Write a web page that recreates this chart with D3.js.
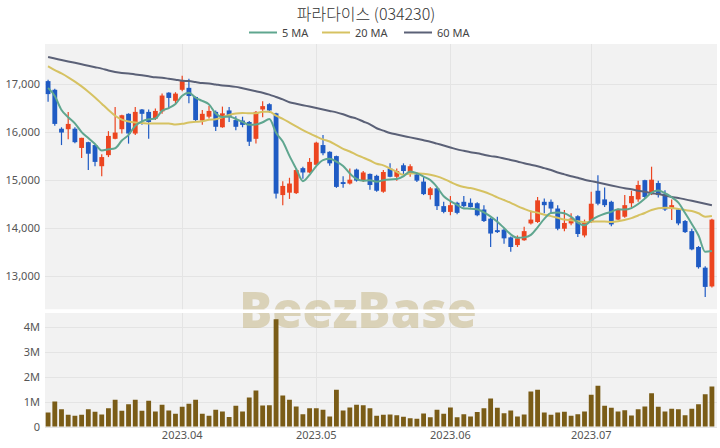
<!DOCTYPE html>
<html><head><meta charset="utf-8">
<script src="https://cdn.jsdelivr.net/npm/d3@7"></script>
<style>
html,body{margin:0;padding:0;background:#fff;}
svg{display:block;font-family:"Noto Sans","Noto Sans CJK KR",sans-serif;}
</style></head>
<body>
<script>
// ---- data ----
const title = "파라다이스 (034230)";
const dates = [
"2023-03-06","2023-03-07","2023-03-08","2023-03-09","2023-03-10","2023-03-13","2023-03-14","2023-03-15","2023-03-16","2023-03-17",
"2023-03-20","2023-03-21","2023-03-22","2023-03-23","2023-03-24","2023-03-27","2023-03-28","2023-03-29","2023-03-30","2023-03-31",
"2023-04-03","2023-04-04","2023-04-05","2023-04-06","2023-04-07","2023-04-10","2023-04-11","2023-04-12","2023-04-13","2023-04-14",
"2023-04-17","2023-04-18","2023-04-19","2023-04-20","2023-04-21","2023-04-24","2023-04-25","2023-04-26","2023-04-27","2023-04-28",
"2023-05-02","2023-05-03","2023-05-04","2023-05-08","2023-05-09","2023-05-10","2023-05-11","2023-05-12","2023-05-15","2023-05-16",
"2023-05-17","2023-05-18","2023-05-19","2023-05-22","2023-05-23","2023-05-24","2023-05-25","2023-05-26","2023-05-30","2023-05-31",
"2023-06-01","2023-06-02","2023-06-05","2023-06-07","2023-06-08","2023-06-09","2023-06-12","2023-06-13","2023-06-14","2023-06-15",
"2023-06-16","2023-06-19","2023-06-20","2023-06-21","2023-06-22","2023-06-23","2023-06-26","2023-06-27","2023-06-28","2023-06-29",
"2023-06-30","2023-07-03","2023-07-04","2023-07-05","2023-07-06","2023-07-07","2023-07-10","2023-07-11","2023-07-12","2023-07-13",
"2023-07-14","2023-07-17","2023-07-18","2023-07-19","2023-07-20","2023-07-21","2023-07-24","2023-07-25","2023-07-26","2023-07-27"];
const open = [17060,16880,16070,16060,16070,15670,15790,15730,15290,15520,
15860,16060,16380,15970,16470,16420,16280,16430,16820,16650,
16880,16920,16730,16240,16320,16420,16100,16450,16250,16240,
16210,15860,16470,16580,16390,14690,14740,14730,15250,15160,
15320,15730,15590,15500,14960,14930,15220,15000,15130,15090,
14760,15240,15070,15310,15140,15120,14970,14690,14830,14460,
14340,14530,14550,14530,14520,14390,14200,13960,13970,13810,
13650,13750,14100,14130,14550,14550,14410,13990,14100,14250,
13850,14130,14780,14600,14550,14180,14240,14520,14600,15000,
14720,14940,14720,14410,14390,14150,13940,13610,13180,12790];
const high = [17090,16900,16100,16420,16100,15880,15800,15740,15540,16020,
16520,16360,16390,16520,16480,16470,16490,16800,16830,16830,
17170,17110,16740,16460,16550,16450,16530,16520,16330,16320,
16230,16440,16640,16600,16400,14980,15050,15230,15280,15460,
15800,15940,15600,15510,15080,15240,15240,15190,15140,15110,
15210,15350,15240,15350,15330,15140,15070,14860,14850,14550,
14670,14550,14670,14620,14540,14480,14220,14240,13990,13830,
13850,14030,14340,14650,14620,14600,14480,14380,14310,14270,
14180,14760,15100,14850,14570,14410,14690,14780,14990,15010,
15280,14990,14790,14600,14410,14170,13990,13630,13210,14200];
const low = [16630,16130,15730,15850,15770,15460,15210,15290,15080,15480,
15850,15970,15760,15940,16150,15860,16250,16380,16490,16600,
16850,16600,16210,16150,16280,16020,16090,16210,16040,16100,
15710,15760,16310,16400,14620,14480,14610,14710,15030,15150,
15300,15520,15300,14840,14840,14910,14970,14960,14800,14760,
14740,15060,14990,15120,15070,14960,14690,14600,14380,14310,
14270,14290,14430,14430,14250,14130,13610,13900,13680,13510,
13610,13740,14080,14110,14310,14310,13960,13940,14060,13820,
13810,14110,14480,14440,14040,14170,14220,14440,14550,14620,
14690,14640,14360,14170,14060,13900,13540,13160,12570,12770];
const close = [16790,16170,15990,16170,15790,15880,15550,15380,15480,15920,
15990,16350,15970,16420,16380,16210,16440,16760,16710,16800,
17060,16750,16250,16380,16440,16110,16390,16310,16110,16150,
15800,16420,16540,16450,14720,14880,14930,15210,15160,15380,
15780,15560,15350,14860,14920,15010,14990,15160,14900,14780,
15170,15070,15190,15190,15290,14990,14710,14830,14460,14340,
14480,14320,14460,14440,14270,14150,13890,13920,13790,13610,
13790,13940,14180,14580,14480,14410,13990,14110,14200,13880,
14130,14510,14510,14480,14080,14390,14480,14670,14900,14650,
15010,14690,14390,14480,14100,13920,13560,13190,12780,14180];
const volume = [0.56,1.0,0.69,0.47,0.43,0.47,0.69,0.59,0.48,0.73,
1.07,0.63,0.89,1.07,0.63,1.03,0.60,0.87,0.64,0.51,
0.79,0.91,1.07,0.51,0.43,0.67,0.60,0.38,0.83,0.60,
1.16,1.44,0.84,0.85,4.29,1.24,1.07,0.80,0.49,0.73,
0.73,0.67,0.40,1.47,0.64,0.76,0.87,0.85,0.73,0.43,
0.47,0.48,0.45,0.39,0.33,0.31,0.52,0.37,0.67,0.51,
0.76,0.37,0.49,0.40,0.58,0.73,1.12,0.75,0.53,0.64,
0.40,0.48,1.40,1.47,0.56,0.47,0.56,0.59,0.43,0.49,
0.60,1.27,1.63,0.83,0.75,0.60,0.65,0.44,0.69,0.80,
1.33,0.79,0.60,0.71,0.69,0.45,0.71,0.89,1.29,1.60].map(v => v * 1e6);
// moving-average values before a full window is available
const ma5Lead = [16920,16750,16460,16310];
const ma20Lead = [17370,17290,17220,17140,17050,16950,16840,16720,16590,16460,
16340,16260,16220,16200,16190,16180,16180,16180,16180];
const ma60 = [17560,17530,17500,17470,17440,17410,17380,17350,17320,17280,
17250,17230,17220,17200,17180,17160,17140,17130,17110,17090,
17070,17060,17040,17020,17010,16990,16970,16960,16940,16910,
16880,16850,16820,16780,16730,16680,16620,16590,16560,16530,
16500,16470,16440,16410,16370,16320,16280,16220,16160,16080,
16030,15980,15950,15920,15890,15860,15830,15800,15760,15720,
15680,15640,15610,15580,15560,15530,15500,15480,15450,15420,
15390,15350,15320,15290,15250,15210,15160,15120,15080,15050,
15010,14980,14950,14920,14890,14860,14830,14810,14780,14760,
14730,14710,14680,14650,14630,14600,14570,14540,14510,14480];
const priceTicks = [13000,14000,15000,16000,17000];
const volTicks = [0,1e6,2e6,3e6,4e6];
const monthTicks = ["2023-04-03","2023-05-02","2023-06-01","2023-07-03"];
const legendItems = [{name:"5 MA",color:"#5fa68f"},{name:"20 MA",color:"#d6c262"},{name:"60 MA",color:"#5b6177"}];

// ---- derived MA ----
function ma(n, lead){
  return close.map((c,i)=>{
    if(i < n-1) return lead[i];
    return d3.mean(close.slice(i-n+1,i+1));
  });
}
const ma5 = ma(5, ma5Lead);
const ma20 = ma(20, ma20Lead);

// ---- layout ----
const W=720,H=448;
const L=45,R=717;
const pTop=44,pBot=309.5,vTop=313,vBot=426.5;
const svg=d3.select("body").append("svg").attr("width",W).attr("height",H);

const x=d3.scaleBand().domain(dates).range([L,715]).paddingInner(0.28).paddingOuter(0.1);
const cx=d=>x(d)+x.bandwidth()/2;
const y=d3.scaleLinear().domain([12310,17832]).range([pBot,pTop]);
const yv=d3.scaleLinear().domain([0,4.54e6]).range([vBot,vTop]);

// backgrounds
svg.append("rect").attr("x",L).attr("y",pTop).attr("width",R-L).attr("height",pBot-pTop).attr("fill","#f2f2f2");
svg.append("rect").attr("x",L).attr("y",vTop).attr("width",R-L).attr("height",vBot-vTop+0.5).attr("fill","#f2f2f2");

// grid
const grid=svg.append("g").attr("stroke","#e4e4e4").attr("stroke-width",1);
priceTicks.forEach(t=>grid.append("line").attr("x1",L).attr("x2",R).attr("y1",Math.round(y(t))+0.5).attr("y2",Math.round(y(t))+0.5));
volTicks.forEach(t=>grid.append("line").attr("x1",L).attr("x2",R).attr("y1",Math.round(yv(t))+0.5).attr("y2",Math.round(yv(t))+0.5));
monthTicks.forEach(t=>{
  const px=Math.round(cx(t))+0.5;
  grid.append("line").attr("x1",px).attr("x2",px).attr("y1",pTop).attr("y2",pBot);
  grid.append("line").attr("x1",px).attr("x2",px).attr("y1",vTop).attr("y2",vBot);
});

// watermark
svg.append("text").attr("x",358).attr("y",328).attr("text-anchor","middle")
  .attr("font-family","'Open Sans','Noto Sans',sans-serif").attr("font-weight",800).attr("font-size",49)
  .attr("fill","#cbbd92").attr("opacity",0.6).text("BeezBase");
svg.append("rect").attr("x",L).attr("y",pBot).attr("width",R-L).attr("height",vTop-pBot).attr("fill","#fff");

// axes
const yAxis=d3.axisLeft(y).tickValues(priceTicks).tickSize(0).tickPadding(4).tickFormat(d3.format(","));
const gy=svg.append("g").attr("transform",`translate(${L-1},0)`).call(yAxis);
const vAxis=d3.axisLeft(yv).tickValues(volTicks).tickSize(0).tickPadding(4).tickFormat(d=>d===0?"0":(d/1e6)+"M");
const gv=svg.append("g").attr("transform",`translate(${L-1},0)`).call(vAxis);
const xAxis=d3.axisBottom(x).tickValues(monthTicks).tickSize(0).tickPadding(5)
  .tickFormat(d=>d.slice(0,4)+"."+d.slice(5,7));
const gx=svg.append("g").attr("transform",`translate(0,${vBot})`).call(xAxis);
[gy,gv,gx].forEach(g=>{
  g.select(".domain").remove();
  g.selectAll("text").attr("fill","#555").attr("font-size",11).attr("font-family","'Noto Sans',sans-serif");
});

// volume bars
svg.append("g").selectAll("rect").data(dates).join("rect")
  .attr("x",d=>x(d)).attr("width",x.bandwidth())
  .attr("y",(d,i)=>yv(volume[i])).attr("height",(d,i)=>vBot-yv(volume[i]))
  .attr("fill","#7a5c17");

// candles
const up="#ec4520",down="#1f5bc4";
const cg=svg.append("g");
dates.forEach((d,i)=>{
  const col=close[i]>=open[i]?up:down;
  cg.append("line").attr("x1",cx(d)).attr("x2",cx(d)).attr("y1",y(high[i])).attr("y2",y(low[i]))
    .attr("stroke",col).attr("stroke-width",1.2);
  const top=y(Math.max(open[i],close[i])),bot=y(Math.min(open[i],close[i]));
  cg.append("rect").attr("x",x(d)).attr("width",x.bandwidth()).attr("y",top).attr("height",Math.max(1.5,bot-top)).attr("fill",col);
});

// MA lines
const line=arr=>d3.line().x((d,i)=>cx(dates[i])).y(d=>y(d)).curve(d3.curveMonotoneX)(arr);
[[ma60,legendItems[2].color],[ma20,legendItems[1].color],[ma5,legendItems[0].color]].forEach(([arr,c])=>{
  svg.append("path").attr("d",line(arr)).attr("fill","none").attr("stroke",c).attr("stroke-width",2).attr("stroke-linejoin","round");
});

// title
svg.append("text").attr("x",366).attr("y",20).attr("text-anchor","middle")
  .attr("font-family","'Noto Sans CJK KR',sans-serif").attr("font-weight",300).attr("font-size",16).attr("fill","#333").text(title);
// legend
const lg=svg.append("g").attr("font-family","'Noto Sans',sans-serif").attr("font-size",11).attr("fill","#444");
const lx=[249,322,404];
legendItems.forEach((it,k)=>{
  lg.append("line").attr("x1",lx[k]).attr("x2",lx[k]+28).attr("y1",32.5).attr("y2",32.5).attr("stroke",it.color).attr("stroke-width",2);
  lg.append("text").attr("x",lx[k]+33).attr("y",36.5).text(it.name);
});
</script>
</body></html>
